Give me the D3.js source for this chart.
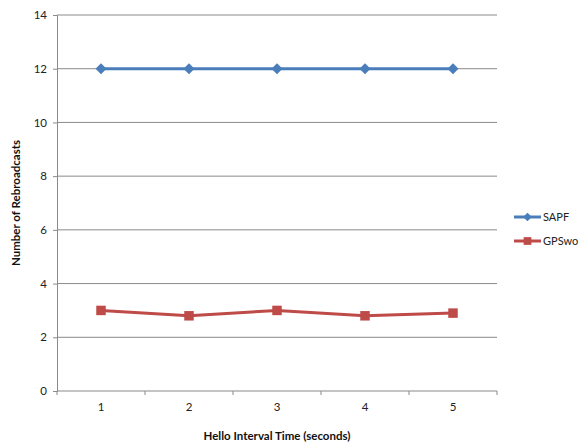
<!DOCTYPE html>
<html>
<head>
<meta charset="utf-8">
<script src="https://cdn.jsdelivr.net/npm/d3@7"></script>
<style>
  html, body { margin: 0; padding: 0; background: #fff; }
  svg { display: block; font-family: Lato, "Open Sans", sans-serif; }
</style>
</head>
<body>
<svg id="chart" width="580" height="445"></svg>
<script>
// Rebroadcast counts per hello interval
const categories = ["1", "2", "3", "4", "5"];
const sapf = [12, 12, 12, 12, 12];
const gpswo = [3, 2.8, 3, 2.8, 2.9];
const yTicks = [0, 2, 4, 6, 8, 10, 12, 14];
const seriesNames = ["SAPF", "GPSwo"];
const seriesColors = ["#4a7ebb", "#be4b48"];

const svg = d3.select("#chart");
const m = { left: 57, right: 497, top: 15, bottom: 391 };

const x = d3.scaleBand().domain(categories).range([m.left, m.right]);
const y = d3.scaleLinear().domain([0, 14]).range([m.bottom, m.top]);

// horizontal gridlines
svg.append("g").selectAll("line").data(yTicks.filter(d => d > 0)).join("line")
  .attr("x1", m.left).attr("x2", m.right)
  .attr("y1", d => y(d)).attr("y2", d => y(d))
  .attr("stroke", "#8a8a8a").attr("stroke-width", 1);

// y axis
const yAxis = svg.append("g").attr("transform", `translate(${m.left},0)`)
  .call(d3.axisLeft(y).tickValues(yTicks).tickSize(4).tickPadding(6));
yAxis.select(".domain").attr("stroke", "#8a8a8a");
yAxis.selectAll(".tick line").attr("stroke", "#8a8a8a");
yAxis.selectAll(".tick text").attr("font-size", 11.5).attr("fill", "#222")
  .attr("font-family", "Lato, sans-serif");

// x axis with ticks at category boundaries
const xAxisG = svg.append("g").attr("transform", `translate(0,${m.bottom})`);
xAxisG.append("line").attr("x1", m.left).attr("x2", m.right)
  .attr("stroke", "#8a8a8a");
const bounds = categories.map(c => x(c)).concat([x(categories[categories.length - 1]) + x.bandwidth()]);
xAxisG.selectAll("line.tk").data(bounds).join("line").attr("class", "tk")
  .attr("x1", d => d).attr("x2", d => d).attr("y1", 0).attr("y2", 4)
  .attr("stroke", "#8a8a8a");
xAxisG.selectAll("text").data(categories).join("text")
  .attr("x", d => x(d) + x.bandwidth() / 2).attr("y", 20)
  .attr("text-anchor", "middle").attr("font-size", 11.5).attr("fill", "#222")
  .text(d => d);

// axis titles
svg.append("text")
  .attr("transform", `translate(20,${(m.top + m.bottom) / 2}) rotate(-90)`)
  .attr("text-anchor", "middle").attr("font-size", 11.5).attr("font-weight", "bold")
  .attr("fill", "#111").text("Number of Rebroadcasts");
svg.append("text")
  .attr("x", (m.left + m.right) / 2).attr("y", 440)
  .attr("text-anchor", "middle").attr("font-size", 11.5).attr("font-weight", "bold")
  .attr("fill", "#111").text("Hello Interval Time (seconds)");

const cx = d => x(d) + x.bandwidth() / 2;
const line = d3.line().x(d => cx(d.c)).y(d => y(d.v));
const allSeries = [sapf, gpswo].map((vals, i) => ({
  name: seriesNames[i], color: seriesColors[i],
  pts: vals.map((v, j) => ({ c: categories[j], v }))
}));

// diamond = square turned 45 degrees
const sq = size => d3.symbol().type(d3.symbolSquare).size(size)();
const markerTransform = (i, px, py) =>
  i === 0 ? `translate(${px},${py}) rotate(45)` : `translate(${px},${py})`;

allSeries.forEach((s, i) => {
  svg.append("path").datum(s.pts).attr("d", line)
    .attr("fill", "none").attr("stroke", s.color).attr("stroke-width", 3);
  svg.append("g").selectAll("path").data(s.pts).join("path")
    .attr("transform", d => markerTransform(i, cx(d.c), y(d.v)))
    .attr("d", sq(i === 0 ? 60 : 90))
    .attr("fill", s.color);
});

// legend
const lg = svg.append("g");
allSeries.forEach((s, i) => {
  const ly = 217 + i * 24;
  lg.append("line").attr("x1", 514).attr("x2", 541).attr("y1", ly).attr("y2", ly)
    .attr("stroke", s.color).attr("stroke-width", 3);
  lg.append("path").attr("transform", markerTransform(i, 527.5, ly))
    .attr("d", sq(i === 0 ? 38 : 60))
    .attr("fill", s.color);
  lg.append("text").attr("x", 543).attr("y", ly + 4)
    .attr("font-size", 11).attr("fill", "#222").text(s.name);
});
</script>
</body>
</html>
